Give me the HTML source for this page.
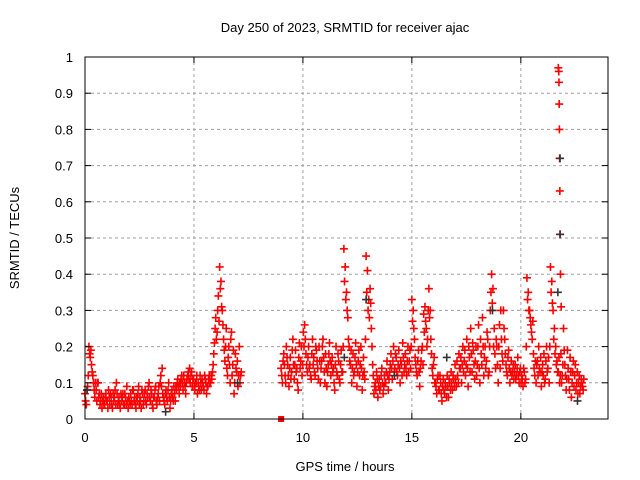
<!DOCTYPE html>
<html><head><meta charset="utf-8"><style>
body{margin:0;background:#fff}
svg{display:block}
text{font-family:"Liberation Sans",sans-serif;font-size:13px;fill:#000}
</style></head><body>
<svg id="c" width="640" height="480">
<text x="345" y="32" text-anchor="middle" font-size="14">Day 250 of 2023, SRMTID for receiver ajac</text>
<text x="345" y="471" text-anchor="middle" font-size="14">GPS time / hours</text>
<text transform="translate(19,238) rotate(-90)" text-anchor="middle" font-size="14">SRMTID / TECUs</text>
<g id="grid"></g><g id="marks"></g><g id="axes"></g>
</svg>
<script>
const xTicks=[0,5,10,15,20];
const yTicks=[0,0.1,0.2,0.3,0.4,0.5,0.6,0.7,0.8,0.9,1];
const yTickLabels=["0","0.1","0.2","0.3","0.4","0.5","0.6","0.7","0.8","0.9","1"];
const seg1Start=0, seg1Step=0.06;
const seg1Vals=[0.07,0.04,0.09,0.2,0.17,0.15,0.12,0.08,0.1,0.05,
0.1,0.07,0.05,0.03,0.06,0.04,0.07,0.05,0.08,0.04,
0.06,0.03,0.05,0.08,0.1,0.04,0.06,0.03,0.05,0.07,
0.04,0.06,0.09,0.03,0.05,0.07,0.04,0.08,0.06,0.03,
0.05,0.09,0.06,0.03,0.07,0.05,0.08,0.04,0.06,0.1,
0.05,0.07,0.03,0.06,0.09,0.04,0.07,0.05,0.12,0.14,
0.06,0.04,0.08,0.05,0.1,0.03,0.07,0.06,0.09,0.05,
0.08,0.11,0.07,0.09,0.12,0.08,0.1,0.07,0.11,0.13,
0.14,0.12,0.09,0.11,0.08,0.1,0.07,0.09,0.12,0.08,
0.1,0.08,0.11,0.07,0.09,0.12,0.1,0.11,0.15,0.21,
0.28,0.24,0.34,0.42,0.38,0.3,0.22,0.16,0.25,0.12,
0.2,0.1,0.24,0.15,0.07,0.18,0.13,0.09,0.2,0.12];
const seg1ValsB=[0.05,0.08,0.12,0.18,0.19,0.13,0.1,0.06,0.08,0.1,
0.06,0.04,0.07,0.05,0.04,0.06,0.05,0.03,0.06,0.07,
0.04,0.07,0.06,0.04,0.07,0.05,0.04,0.07,0.06,0.04,
0.07,0.04,0.05,0.06,0.04,0.05,0.08,0.05,0.04,0.06,
0.07,0.04,0.05,0.08,0.04,0.07,0.05,0.07,0.09,0.06,
0.08,0.04,0.06,0.08,0.05,0.06,0.09,0.1,0.09,0.07,
0.05,0.07,0.06,0.08,0.06,0.05,0.08,0.05,0.07,0.09,
0.1,0.09,0.1,0.11,0.1,0.12,0.09,0.1,0.12,0.11,
0.1,0.13,0.11,0.09,0.1,0.12,0.1,0.08,0.1,0.11,
0.09,0.12,0.1,0.09,0.11,0.1,0.12,0.13,0.18,0.25,
0.22,0.3,0.27,0.36,0.31,0.26,0.19,0.2,0.14,0.17,
0.15,0.22,0.12,0.19,0.1,0.14,0.16,0.12,0.1,0.13];
const seg2Start=9.0, seg2Step=0.06;
const seg2Vals=[0.14,0.1,0.18,0.12,0.2,0.15,0.09,0.17,0.13,0.22,
0.11,0.19,0.14,0.08,0.21,0.16,0.12,0.24,0.26,0.18,
0.13,0.2,0.15,0.11,0.22,0.17,0.12,0.19,0.14,0.2,
0.1,0.16,0.22,0.13,0.18,0.09,0.15,0.21,0.12,0.17,
0.14,0.08,0.2,0.12,0.16,0.1,0.19,0.13,0.47,0.42,
0.35,0.28,0.2,0.15,0.1,0.18,0.13,0.21,0.09,0.16,
0.12,0.2,0.08,0.17,0.11,0.45,0.41,0.33,0.36,0.25,
0.15,0.07,0.1,0.13,0.06,0.11,0.09,0.14,0.07,0.12,
0.1,0.16,0.08,0.13,0.18,0.11,0.2,0.14,0.17,0.12,
0.19,0.1,0.15,0.21,0.13,0.18,0.12,0.2,0.16,0.14,
0.33,0.3,0.22,0.15,0.12,0.19,0.09,0.16,0.2,0.29,
0.31,0.25,0.22,0.36,0.3,0.18,0.12,0.17,0.1,0.07,
0.12,0.08,0.1,0.05,0.11,0.07,0.09,0.12,0.06,0.1,
0.13,0.08,0.11,0.15,0.09,0.12,0.18,0.14,0.1,0.2,
0.16,0.12,0.22,0.09,0.17,0.25,0.13,0.19,0.11,0.2,
0.15,0.26,0.1,0.18,0.28,0.12,0.2,0.16,0.22,0.13,
0.3,0.4,0.36,0.25,0.14,0.2,0.1,0.26,0.3,0.18,
0.3,0.22,0.15,0.12,0.19,0.1,0.16,0.13,0.11,0.15,
0.12,0.17,0.1,0.14,0.12,0.09,0.13,0.11,0.39,0.35,
0.3,0.26,0.22,0.18,0.12,0.1,0.16,0.2,0.13,0.09,
0.15,0.18,0.11,0.2,0.14,0.1,0.42,0.38,0.3,0.25,
0.2,0.16,0.13,0.1,0.18,0.12,0.25,0.15,0.08,0.19,
0.11,0.17,0.06,0.13,0.09,0.15,0.1,0.07,0.12,0.09,
0.1,0.08];
const seg2ValsB=[0.12,0.16,0.15,0.1,0.17,0.12,0.14,0.11,0.19,0.15,
0.15,0.13,0.1,0.17,0.14,0.2,0.15,0.2,0.22,0.15,
0.17,0.14,0.12,0.18,0.15,0.13,0.2,0.16,0.11,0.16,
0.14,0.2,0.17,0.1,0.14,0.13,0.18,0.16,0.15,0.13,
0.1,0.15,0.13,0.18,0.11,0.15,0.13,0.2,0.38,0.33,
0.3,0.22,0.16,0.19,0.14,0.12,0.17,0.15,0.13,0.19,
0.15,0.14,0.12,0.13,0.22,0.35,0.3,0.28,0.32,0.2,
0.12,0.09,0.08,0.11,0.09,0.08,0.12,0.1,0.09,0.1,
0.13,0.12,0.11,0.15,0.14,0.16,0.13,0.18,0.13,0.15,
0.14,0.16,0.12,0.17,0.15,0.14,0.16,0.13,0.19,0.2,
0.27,0.25,0.17,0.13,0.16,0.13,0.14,0.19,0.15,0.24,
0.27,0.2,0.3,0.28,0.22,0.14,0.15,0.1,0.09,0.11,
0.08,0.12,0.07,0.09,0.08,0.1,0.06,0.09,0.11,0.08,
0.1,0.12,0.09,0.11,0.16,0.1,0.14,0.17,0.15,0.13,
0.19,0.15,0.14,0.2,0.13,0.18,0.21,0.15,0.16,0.12,
0.2,0.14,0.22,0.15,0.2,0.17,0.14,0.24,0.12,0.2,
0.35,0.32,0.2,0.18,0.22,0.15,0.2,0.14,0.22,0.16,
0.25,0.18,0.13,0.17,0.14,0.13,0.12,0.15,0.13,0.11,
0.14,0.12,0.13,0.1,0.11,0.14,0.1,0.2,0.33,0.3,
0.28,0.24,0.27,0.14,0.16,0.15,0.12,0.14,0.17,0.13,
0.12,0.1,0.16,0.13,0.17,0.2,0.35,0.32,0.22,0.18,
0.15,0.13,0.17,0.12,0.1,0.15,0.19,0.12,0.11,0.14,
0.08,0.13,0.1,0.16,0.12,0.08,0.13,0.1,0.07,0.11,
0.09,0.11];
const spikeTimes=[21.72,21.74,21.75,21.76,21.77,21.78,21.79,21.8,21.82,21.85];
const spikeVals=[0.97,0.96,0.93,0.87,0.8,0.72,0.63,0.51,0.4,0.31];
const blackTimes=[0.1,3.7,11.9,12.9,16.6,18.7,21.8,21.8,22.6,21.7,7.0,14.2];
const blackVals=[0.08,0.02,0.17,0.33,0.17,0.3,0.72,0.51,0.05,0.35,0.1,0.12];
const gapTimes=[9.0];
const gapVals=[0];

const X0=85,X1=608,Y0=419,Y1=57;
const xs=t=>X0+(t/24)*(X1-X0);
const ys=v=>Y0-v*(Y0-Y1);
const NS="http://www.w3.org/2000/svg";
function mk(tag,attrs,parent){const e=document.createElementNS(NS,tag);for(const k in attrs)e.setAttribute(k,attrs[k]);parent.appendChild(e);return e;}
const grid=document.getElementById('grid'),marks=document.getElementById('marks'),axes=document.getElementById('axes');
yTicks.forEach((v,i)=>{
  const y=ys(v);
  if(v>0&&v<1){const g=mk('line',{x1:X0,x2:X1,y1:y,y2:y,stroke:'#a0a0a0','stroke-dasharray':'3,3','stroke-width':1},grid);
  
  }
  const t=mk('text',{x:X0-12,y:y+5,'text-anchor':'end'},axes);t.textContent=yTickLabels[i];
  
  
  mk('line',{x1:X0,x2:X0+6,y1:y,y2:y,stroke:'#000'},axes);
  mk('line',{x1:X1,x2:X1-6,y1:y,y2:y,stroke:'#000'},axes);
});
xTicks.forEach(v=>{
  const x=xs(v);
  if(v>0){const g=mk('line',{x1:x,x2:x,y1:Y0,y2:Y1,stroke:'#a0a0a0','stroke-dasharray':'3,3','stroke-width':1},grid);
  
  }
  const t=mk('text',{x:x,y:Y0+23,'text-anchor':'middle'},axes);t.textContent=String(v);
  
  
  mk('line',{x1:x,x2:x,y1:Y0,y2:Y0-6,stroke:'#000'},axes);
  mk('line',{x1:x,x2:x,y1:Y1,y2:Y1+6,stroke:'#000'},axes);
});
const frame=mk('rect',{x:X0,y:Y1,width:X1-X0,height:Y0-Y1,fill:'none',stroke:'#000'},axes);


function plus(t,v,color){
  const x=xs(t),y=ys(v);
  const p=mk('path',{d:`M${x-4},${y}h8M${x},${y-4}v8`,stroke:color,'stroke-width':1.6,fill:'none'},marks);
  
  
}
seg1Vals.forEach((v,i)=>plus(seg1Start+i*seg1Step,v,'#f00'));
seg1ValsB.forEach((v,i)=>plus(seg1Start+seg1Step/2+i*seg1Step,v,'#f00'));
seg2Vals.forEach((v,i)=>plus(seg2Start+i*seg2Step,v,'#f00'));
seg2ValsB.forEach((v,i)=>plus(seg2Start+seg2Step/2+i*seg2Step,v,'#f00'));
spikeVals.forEach((v,i)=>plus(spikeTimes[i],v,'#f00'));
blackVals.forEach((v,i)=>plus(blackTimes[i],v,'#333'));
gapVals.forEach((v,i)=>{
  const r=mk('rect',{x:xs(gapTimes[i])-3,y:ys(v)-3,width:6,height:6,fill:'#f00'},marks);
  
  
});
</script>
</body></html>
